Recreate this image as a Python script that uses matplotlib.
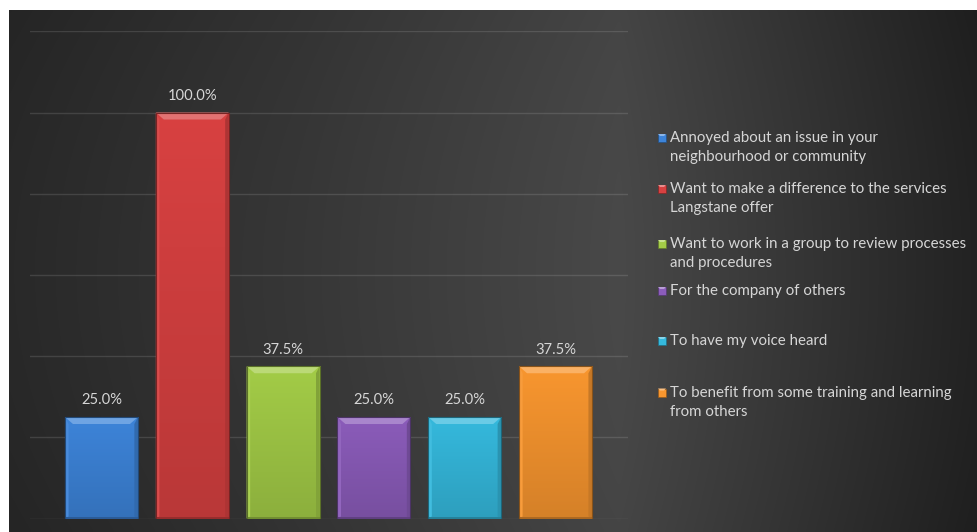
import numpy as np
import matplotlib
matplotlib.use("Agg")
import matplotlib.pyplot as plt
from matplotlib.patches import Polygon, Rectangle
from matplotlib.colors import to_rgb

# survey: reasons for getting involved (share of respondents)
labels = [
    "Annoyed about an issue in your\nneighbourhood or community",
    "Want to make a difference to the services\nLangstane offer",
    "Want to work in a group to review processes\nand procedures",
    "For the company of others",
    "To have my voice heard",
    "To benefit from some training and learning\nfrom others",
]
values = [0.25, 1.00, 0.375, 0.25, 0.25, 0.375]
colors = ["#3d84d9", "#d84141", "#a3cc47", "#8b5cba", "#35b9dd", "#f8962f"]
yticks = [0.0, 0.2, 0.4, 0.6, 0.8, 1.0, 1.2]

W, H, DPI = 978, 532, 100
fig = plt.figure(figsize=(W / DPI, H / DPI), dpi=DPI, facecolor="white")
plt.rcParams["font.family"] = ["Lato", "DejaVu Sans"]
txt_col = "#d6d6d6"


def shade(c, f):
    r = np.array(to_rgb(c))
    if f >= 0:
        return tuple(r + (1 - r) * f)
    return tuple(r * (1 + f))


# dark backdrop, brightest a little right of centre
bg = fig.add_axes([9 / W, 0, 1 - 9 / W, (H - 10) / H])
bg.set_axis_off()
xs = np.linspace(9, W, 400)
ys = np.linspace(0, H - 10, 200)
X, Y = np.meshgrid(xs, ys)
prof = np.interp(X, [9, 300, 620, 800, 978], [0.16, 0.215, 0.285, 0.21, 0.135])
prof = prof - 0.015 * ((Y - 260) / 260) ** 2
bg.imshow(np.dstack([prof] * 3), extent=[0, 1, 0, 1], aspect="auto",
          interpolation="bicubic", origin="lower")
bg.set_xlim(0, 1)
bg.set_ylim(0, 1)

ax = fig.add_axes([30 / W, 13.5 / H, 598 / W, 487.2 / H])
ax.patch.set_alpha(0)
ax.set_xlim(-0.787, 5.798)
ax.set_ylim(0, 1.2)
ax.set_yticks(yticks)
ax.yaxis.grid(True, color="white", alpha=0.12, lw=1.0)
ax.set_axisbelow(True)
ax.tick_params(left=False, bottom=False, labelleft=False, labelbottom=False)
for s in ax.spines.values():
    s.set_visible(False)

x = np.arange(len(values))
bars = ax.bar(x, values, width=0.804, color=colors, zorder=2,
              edgecolor="none")

px = (ax.get_xlim()[1] - ax.get_xlim()[0]) / 598
py = (ax.get_ylim()[1] - ax.get_ylim()[0]) / 487.2

for b, c in zip(bars, colors):
    x0, w, h = b.get_x(), b.get_width(), b.get_height()
    # vertical shading inside the bar
    grad = np.linspace(0, 1, 64)[:, None]
    top, bot = np.array(to_rgb(c)), np.array(shade(c, -0.14))
    img = bot + (top - bot) * grad[..., None]
    im = ax.imshow(np.repeat(img, 2, axis=1), extent=[x0, x0 + w, 0, h],
                   origin="lower", aspect="auto", zorder=2.5,
                   interpolation="bilinear")
    im.set_clip_path(b)
    bx, by = 8 * px, 7 * py
    # top bevel
    ax.add_patch(Polygon([(x0, h), (x0 + w, h), (x0 + w - bx, h - by),
                          (x0 + bx, h - by)], closed=True,
                         facecolor=shade(c, 0.26), edgecolor="none", zorder=3))
    # side and bottom bevels
    ax.add_patch(Polygon([(x0, h), (x0 + bx * 0.45, h - by), (x0 + bx * 0.45, 2 * py),
                          (x0, 0)], closed=True, facecolor=shade(c, 0.06),
                         edgecolor="none", zorder=3))
    ax.add_patch(Polygon([(x0 + w, h), (x0 + w - bx * 0.45, h - by),
                          (x0 + w - bx * 0.45, 2 * py), (x0 + w, 0)], closed=True,
                         facecolor=shade(c, -0.2), edgecolor="none", zorder=3))
    ax.add_patch(Rectangle((x0, 0), w, 2 * py, facecolor=shade(c, -0.3),
                           edgecolor="none", zorder=3))
    ax.add_patch(Rectangle((x0, 0), w, h, facecolor="none",
                           edgecolor=shade(c, -0.45), lw=0.8, zorder=3.5))
    ax.annotate(f"{h * 100:.1f}%", (x0 + w / 2, h), xytext=(0, 9),
                textcoords="offset points", ha="center", va="baseline",
                color=txt_col, fontsize=10.6, zorder=4)

# legend drawn by hand so every entry can wrap like the original
entry_base = [142, 193, 248, 295, 345, 396.5]
for lab, c, yb in zip(labels, colors, entry_base):
    fig.patches.append(Rectangle((658 / W, (H - yb) / H), 8 / W, 8 / H,
                                 transform=fig.transFigure,
                                 facecolor=c, edgecolor=shade(c, -0.4),
                                 lw=0.5))
    fig.patches.append(Polygon([(658 / W, (H - yb + 8) / H), (666 / W, (H - yb + 8) / H),
                                (664 / W, (H - yb + 6) / H), (660 / W, (H - yb + 6) / H)],
                               closed=True, transform=fig.transFigure,
                               facecolor=shade(c, 0.4), edgecolor="none"))
    for k, line in enumerate(lab.split("\n")):
        fig.text(670 / W, (H - yb - 19 * k) / H, line, color=txt_col,
                 fontsize=10.85, ha="left", va="baseline")

fig.savefig("out.png", dpi=DPI, facecolor="white")
